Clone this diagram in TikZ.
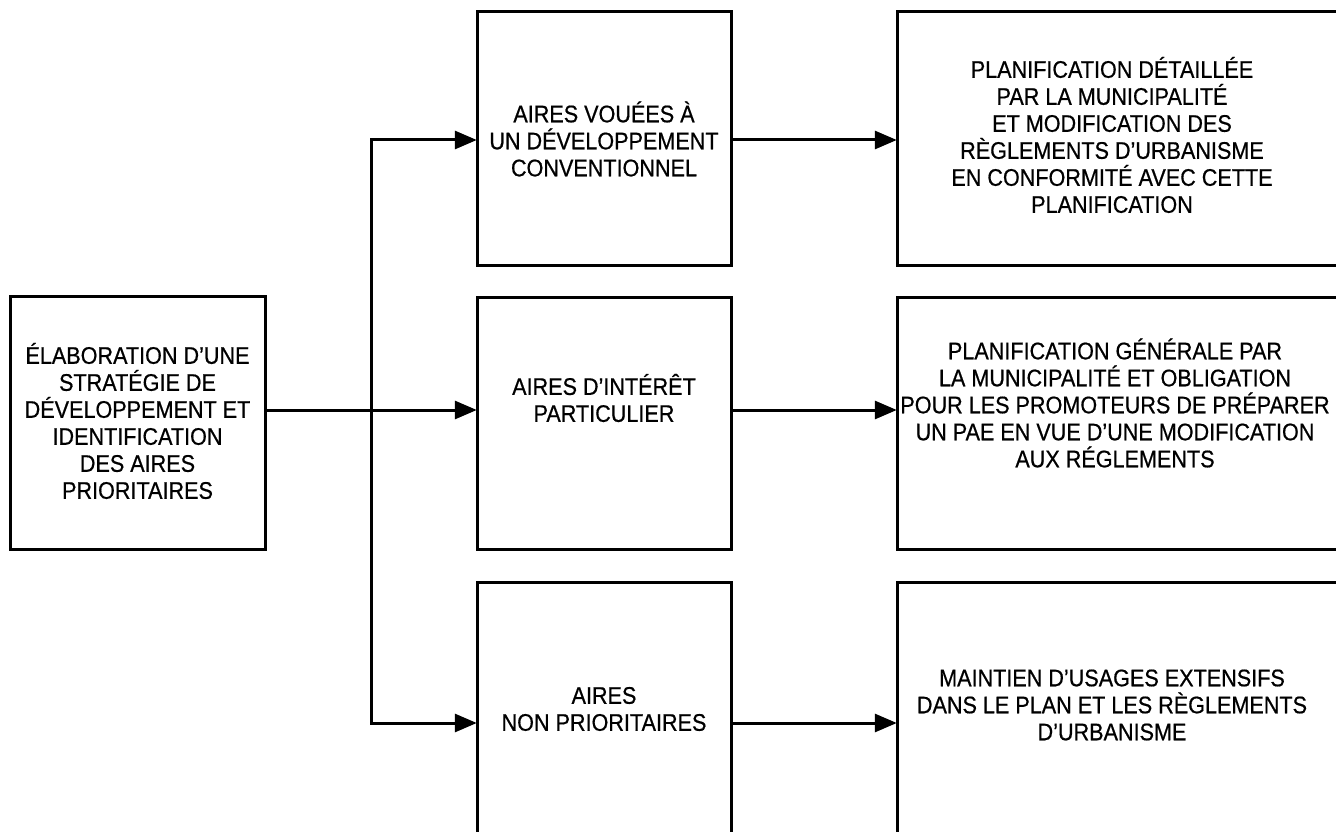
\documentclass[tikz,border=0pt]{standalone}
\usepackage{fontspec}
\setmainfont{Liberation Sans}[FakeStretch=0.9,FakeBold=0.6]
\usetikzlibrary{arrows.meta,calc}
\tikzset{
  boxline/.style={draw=black, line width=3pt},
  lbl/.style={align=center, inner sep=0pt, font=\fontsize{24}{27}\selectfont},
  arr/.style={line width=3pt, -{Triangle[length=22pt,width=18pt]}},
  conn/.style={line width=3pt}
}
\begin{document}
\begin{tikzpicture}[x=1pt,y=-1pt]
\useasboundingbox (0,0) rectangle (1336,832);
\fill[white] (0,0) rectangle (1336,832);
\clip (0,0) rectangle (1336,832);
% boxes
\draw[boxline] (10,296) rectangle (265,549);
\node (L) [inner sep=0pt, minimum width=255pt, minimum height=253pt] at (137.5,422.5) {};
\draw[boxline] (477,12) rectangle (731,265);
\node (M1) [inner sep=0pt, minimum width=254pt, minimum height=253pt] at (604,138.5) {};
\draw[boxline] (477,297) rectangle (731,549);
\node (M2) [inner sep=0pt, minimum width=254pt, minimum height=252pt] at (604,423) {};
\draw[boxline] (477,582) rectangle (731,845);
\node (M3) [inner sep=0pt, minimum width=254pt, minimum height=263pt] at (604,713.5) {};
\draw[boxline] (897,12) rectangle (1350,265);
\node (R1) [inner sep=0pt, minimum width=453pt, minimum height=253pt] at (1123.5,138.5) {};
\draw[boxline] (897,297) rectangle (1350,549);
\node (R2) [inner sep=0pt, minimum width=453pt, minimum height=252pt] at (1123.5,423) {};
\draw[boxline] (897,582) rectangle (1350,845);
\node (R3) [inner sep=0pt, minimum width=453pt, minimum height=263pt] at (1123.5,713.5) {};
% texts
\node[lbl] (tL) at (137.5,421) {ÉLABORATION D'UNE\\STRATÉGIE DE\\DÉVELOPPEMENT ET\\IDENTIFICATION\\DES AIRES\\PRIORITAIRES};
\node[lbl] (tM1) at (604,139) {AIRES VOUÉES À\\UN DÉVELOPPEMENT\\CONVENTIONNEL};
\node[lbl] (tM2) at (604,398) {AIRES D'INTÉRÊT\\PARTICULIER};
\node[lbl] (tM3) at (604,709) {AIRES\\NON PRIORITAIRES};
\node[lbl] (tR1) at (1112,135) {PLANIFICATION DÉTAILLÉE\\PAR LA MUNICIPALITÉ\\ET MODIFICATION DES\\RÈGLEMENTS D'URBANISME\\EN CONFORMITÉ AVEC CETTE\\PLANIFICATION};
\node[lbl] (tR2) at (1115,403) {PLANIFICATION GÉNÉRALE PAR\\LA MUNICIPALITÉ ET OBLIGATION\\POUR LES PROMOTEURS DE PRÉPARER\\UN PAE EN VUE D'UNE MODIFICATION\\AUX RÉGLEMENTS};
\node[lbl] (tR3) at (1112,705) {MAINTIEN D'USAGES EXTENSIFS\\DANS LE PLAN ET LES RÈGLEMENTS\\D'URBANISME};
% junction coordinates
\coordinate (jt) at (371,140);
\coordinate (jm) at (371,410);
\coordinate (jb) at (371,723);
% connectors
\draw[conn] (L.east |- jm) -- (jm);
\draw[arr] (jm) -- (M2.west |- jm);
\draw[conn,line cap=rect] (jt) -- (jb);
\draw[arr] (jt) -- (M1.west |- jt);
\draw[arr] (jb) -- (M3.west |- jb);
\draw[arr] (M1.east |- jt) -- (R1.west |- jt);
\draw[arr] (M2.east |- jm) -- (R2.west |- jm);
\draw[arr] (M3.east |- jb) -- (R3.west |- jb);
\end{tikzpicture}
\end{document}
